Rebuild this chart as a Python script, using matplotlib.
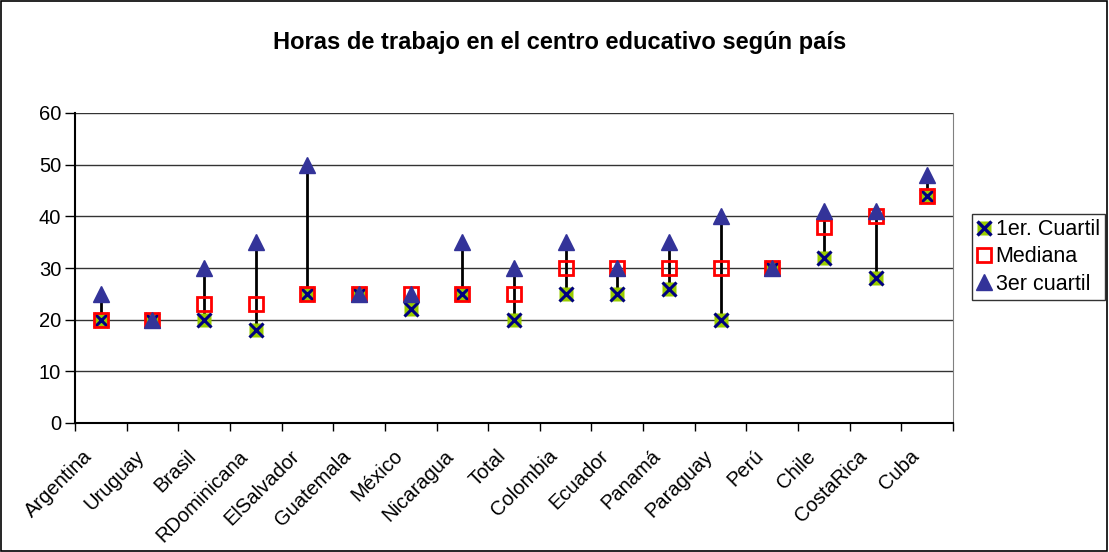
import matplotlib.pyplot as plt
import matplotlib.transforms as mtransforms
from matplotlib.patches import Rectangle
from matplotlib.lines import Line2D

plt.rcParams['font.family'] = ['Liberation Sans', 'DejaVu Sans']

# datos
paises = ["Argentina", "Uruguay", "Brasil", "RDominicana", "ElSalvador", "Guatemala",
          "México", "Nicaragua", "Total", "Colombia", "Ecuador", "Panamá", "Paraguay",
          "Perú", "Chile", "CostaRica", "Cuba"]
q1 = [20, 20, 20, 18, 25, 25, 22, 25, 20, 25, 25, 26, 20, 30, 32, 28, 44]
mediana = [20, 20, 23, 23, 25, 25, 25, 25, 25, 30, 30, 30, 30, 30, 38, 40, 44]
q3 = [25, 20, 30, 35, 50, 25, 25, 35, 30, 35, 30, 35, 40, 30, 41, 41, 48]

fig = plt.figure(figsize=(11.09, 5.52), dpi=100)
ax = fig.add_axes([75 / 1109, 1 - 423 / 552, (953 - 75) / 1109, (423 - 113) / 552])

x = list(range(len(paises)))

# lineas max-min
ax.vlines(x, q1, q3, color="black", lw=2, zorder=2)

# marcadores
ax.plot(x, q1, ls="none", marker="s", ms=10, mfc="#99cc00", mec="none", zorder=3)
ax.plot(x, q1, ls="none", marker="x", ms=10, mew=2.2, color="#000080", zorder=4)
ax.plot(x, mediana, ls="none", marker="s", ms=10, mfc="none", mec="#ff0000", mew=2, zorder=5)
ax.plot(x, q3, ls="none", marker="^", ms=12, color="#333399", mec="#333399", zorder=6)

ax.set_xlim(-0.5, len(paises) - 0.5)
ax.set_ylim(0, 60)
ax.set_yticks(range(0, 61, 10))
ax.yaxis.grid(True, color="#333333", lw=1)
ax.set_axisbelow(True)

ax.set_xticks(x)
ax.set_xticklabels(paises, rotation=45, ha="right", va="top", rotation_mode="anchor",
                   fontsize=14.5)
ax.tick_params(axis="x", length=0, pad=17)
shift = mtransforms.ScaledTranslation(-18 / 100, 0, fig.dpi_scale_trans)
for lbl in ax.get_xticklabels():
    lbl.set_transform(lbl.get_transform() + shift)
ax.set_xticks([i - 0.5 for i in range(len(paises) + 1)], minor=True)
ax.tick_params(axis="x", which="minor", length=6, width=1, color="black", direction="out")
ax.tick_params(axis="y", length=7, width=1, labelsize=14.5, pad=3)

ax.spines["top"].set_visible(False)
ax.spines["right"].set_color("#808080")
ax.spines["left"].set_lw(1.5)
ax.spines["bottom"].set_lw(1.5)

fig.text(0.505, 1 - 42 / 552, "Horas de trabajo en el centro educativo según país",
         ha="center", va="center", fontsize=17, fontweight="bold")

handles = [
    (Line2D([], [], ls="none", marker="s", ms=10, mfc="#99cc00", mec="none"),
     Line2D([], [], ls="none", marker="x", ms=10, mew=2.4, color="#000080")),
    Line2D([], [], ls="none", marker="s", ms=10, mfc="none", mec="#ff0000", mew=2),
    Line2D([], [], ls="none", marker="^", ms=12, color="#333399"),
]
leg = fig.legend(handles, ["1er. Cuartil", "Mediana", "3er cuartil"],
                 loc="center left", bbox_to_anchor=(972 / 1109, 1 - 257 / 552),
                 fontsize=15.5, frameon=True, fancybox=False, handlelength=0.6,
                 handletextpad=0.25, borderpad=0.25, labelspacing=0.3, borderaxespad=0)
leg.get_frame().set_edgecolor("black")
leg.get_frame().set_linewidth(1)

fig.patches.append(Rectangle((0.001, 0.002), 0.997, 0.996, transform=fig.transFigure,
                             fill=False, edgecolor="black", lw=1.2))

fig.savefig("out.png", dpi=100)
